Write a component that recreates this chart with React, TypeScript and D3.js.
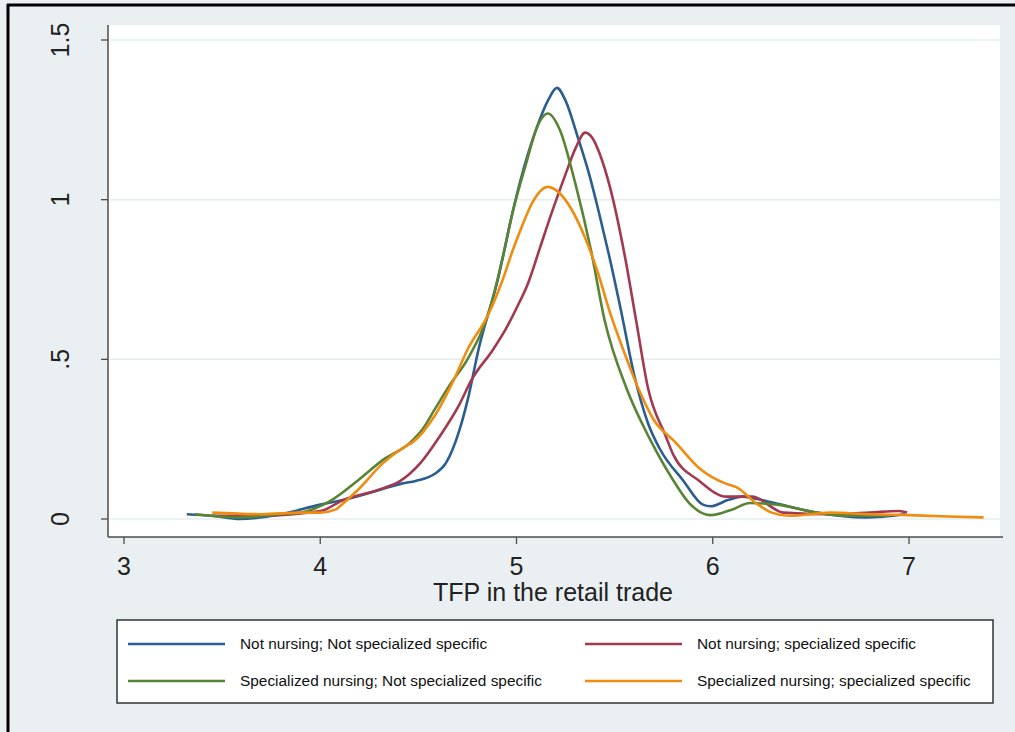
import React from "react";
import * as d3 from "d3";

// kernel density estimates
const xTicks = [3, 4, 5, 6, 7];
const yTicks = [0, 0.5, 1, 1.5];
const yTickLabels = ["0", ".5", "1", "1.5"];

const notNursNotSpecX = [3.32, 3.45, 3.59, 3.8, 4.0, 4.12, 4.24, 4.41, 4.49, 4.58, 4.64, 4.71, 4.75, 4.81, 4.905, 4.98, 5.02, 5.1, 5.16, 5.206, 5.25, 5.31, 5.37, 5.42, 5.47, 5.53, 5.6, 5.67, 5.73, 5.85, 5.95, 5.99, 6.08, 6.15, 6.28, 6.53, 6.78, 6.98];
const notNursNotSpecY = [0.015, 0.01, 0.0, 0.015, 0.045, 0.06, 0.08, 0.11, 0.12, 0.14, 0.175, 0.28, 0.37, 0.54, 0.75, 0.96, 1.06, 1.22, 1.31, 1.35, 1.31, 1.2, 1.08, 0.96, 0.83, 0.66, 0.45, 0.3, 0.22, 0.12, 0.045, 0.04, 0.06, 0.07, 0.055, 0.02, 0.005, 0.015];

const notNursSpecX = [3.45, 3.7, 4.0, 4.12, 4.29, 4.41, 4.51, 4.61, 4.71, 4.77, 4.88, 4.95, 5.0, 5.06, 5.12, 5.18, 5.25, 5.3, 5.35, 5.39, 5.42, 5.476, 5.55, 5.61, 5.67, 5.76, 5.8, 5.93, 6.07, 6.2, 6.36, 6.6, 6.8, 6.95, 6.99];
const notNursSpecY = [0.01, 0.01, 0.025, 0.06, 0.09, 0.12, 0.175, 0.26, 0.36, 0.435, 0.53, 0.6, 0.66, 0.74, 0.85, 0.96, 1.08, 1.16, 1.21, 1.19, 1.15, 1.04, 0.83, 0.62, 0.41, 0.26, 0.2, 0.12, 0.07, 0.07, 0.02, 0.015, 0.02, 0.025, 0.02];

const specNursNotSpecX = [3.36, 3.6, 3.8, 3.9, 4.06, 4.19, 4.32, 4.46, 4.52, 4.58, 4.66, 4.75, 4.865, 4.93, 4.98, 5.05, 5.1, 5.16, 5.22, 5.3, 5.38, 5.45, 5.56, 5.68, 5.8, 5.88, 5.99, 6.1, 6.19, 6.33, 6.53, 6.7, 6.9];
const specNursNotSpecY = [0.015, 0.005, 0.015, 0.02, 0.06, 0.12, 0.185, 0.24, 0.28, 0.34, 0.42, 0.5, 0.66, 0.82, 0.96, 1.115, 1.22, 1.27, 1.22, 1.05, 0.84, 0.62, 0.41, 0.25, 0.12, 0.05, 0.012, 0.03, 0.05, 0.045, 0.02, 0.01, 0.01];

const specNursSpecX = [3.45, 3.7, 3.9, 4.0, 4.08, 4.1, 4.19, 4.32, 4.44, 4.47, 4.58, 4.68, 4.75, 4.86, 4.93, 4.98, 5.03, 5.08, 5.16, 5.22, 5.28, 5.35, 5.41, 5.48, 5.55, 5.62, 5.7, 5.81, 5.93, 6.07, 6.12, 6.22, 6.3, 6.39, 6.6, 6.8, 7.0, 7.2, 7.38];
const specNursSpecY = [0.02, 0.015, 0.02, 0.02, 0.03, 0.04, 0.09, 0.175, 0.23, 0.24, 0.32, 0.435, 0.53, 0.645, 0.75, 0.84, 0.92, 0.99, 1.04, 1.02, 0.97, 0.88, 0.78, 0.64, 0.52, 0.41, 0.31, 0.24, 0.16, 0.11, 0.1, 0.05, 0.02, 0.01, 0.02, 0.015, 0.012, 0.008, 0.005];

const seriesNames = [
  "Not nursing; Not specialized specific",
  "Not nursing; specialized specific",
  "Specialized nursing; Not specialized specific",
  "Specialized nursing; specialized specific",
];
const seriesColors = ["#2a5d90", "#a3394f", "#5a8435", "#f08c10"];

const series = [
  { name: seriesNames[0], color: seriesColors[0], xs: notNursNotSpecX, ys: notNursNotSpecY },
  { name: seriesNames[1], color: seriesColors[1], xs: notNursSpecX, ys: notNursSpecY },
  { name: seriesNames[2], color: seriesColors[2], xs: specNursNotSpecX, ys: specNursNotSpecY },
  { name: seriesNames[3], color: seriesColors[3], xs: specNursSpecX, ys: specNursSpecY },
];

const W = 1015;
const H = 732;
const font = "Arial, 'Liberation Sans', sans-serif";

export default function App() {
  const x = d3.scaleLinear().domain([3, 7]).range([124, 909]);
  const y = d3.scaleLinear().domain([0, 1.5]).range([519, 40]);

  const line = d3
    .line<[number, number]>()
    .x((d) => x(d[0]))
    .y((d) => y(d[1]))
    .curve(d3.curveMonotoneX);

  const axisColor = "#4d4d4d";
  const plotLeft = 108;
  const plotRight = 1000;
  const plotTop = 25;
  const plotBottom = 537;

  // legend layout
  const legendRows = [644, 681];
  const legendCols = [128, 585];

  return (
    <div style={{ position: "absolute", left: 0, top: 0 }}>
      <svg width={W} height={H} style={{ display: "block" }}>
        <rect x={0} y={0} width={W} height={H} fill="#eaf0f2" />
        <rect x={plotLeft} y={plotTop} width={plotRight - plotLeft} height={plotBottom - plotTop} fill="#ffffff" />

        {/* grid */}
        {yTicks.map((t) => (
          <line key={"g" + t} x1={plotLeft + 2} x2={plotRight} y1={y(t)} y2={y(t)} stroke="#e6ecee" strokeWidth={1.5} />
        ))}

        {/* curves */}
        {series.map((s) => (
          <path
            key={s.name}
            d={line(s.xs.map((v, i) => [v, s.ys[i]] as [number, number])) || ""}
            fill="none"
            stroke={s.color}
            strokeWidth={2.6}
            strokeLinejoin="round"
          />
        ))}

        {/* axes */}
        <line x1={plotLeft} x2={plotLeft} y1={plotTop} y2={plotBottom} stroke={axisColor} strokeWidth={1.5} />
        <line x1={plotLeft} x2={plotRight + 3} y1={plotBottom} y2={plotBottom} stroke={axisColor} strokeWidth={1.5} />

        {yTicks.map((t, i) => (
          <g key={"y" + t}>
            <line x1={plotLeft - 7} x2={plotLeft} y1={y(t)} y2={y(t)} stroke={axisColor} strokeWidth={1.3} />
            <text
              transform={`translate(69,${y(t)}) rotate(-90)`}
              textAnchor="middle"
              fontFamily={font}
              fontSize={25}
              fill="#222"
            >
              {yTickLabels[i]}
            </text>
          </g>
        ))}

        {xTicks.map((t) => (
          <g key={"x" + t}>
            <line x1={x(t)} x2={x(t)} y1={plotBottom} y2={plotBottom + 7} stroke={axisColor} strokeWidth={1.3} />
            <text x={x(t)} y={575} textAnchor="middle" fontFamily={font} fontSize={25} fill="#222">
              {t}
            </text>
          </g>
        ))}

        <text x={553} y={601} textAnchor="middle" fontFamily={font} fontSize={25} fill="#222">
          TFP in the retail trade
        </text>

        {/* legend */}
        <rect x={117} y={620} width={876} height={83} fill="#ffffff" stroke="#333" strokeWidth={1.5} />
        {series.map((s, i) => {
          const cx = legendCols[i % 2];
          const cy = legendRows[Math.floor(i / 2)];
          return (
            <g key={"l" + i}>
              <line x1={cx} x2={cx + 97} y1={cy} y2={cy} stroke={s.color} strokeWidth={2.6} />
              <text x={cx + 112} y={cy + 5} fontFamily={font} fontSize={15.4} fill="#111">
                {s.name}
              </text>
            </g>
          );
        })}

        {/* outer frame (cropped screenshot: top and left only) */}
        <line x1={7} x2={W} y1={5} y2={5} stroke="#000" strokeWidth={3} />
        <line x1={8} x2={8} y1={4} y2={H} stroke="#000" strokeWidth={3} />
      </svg>
    </div>
  );
}
